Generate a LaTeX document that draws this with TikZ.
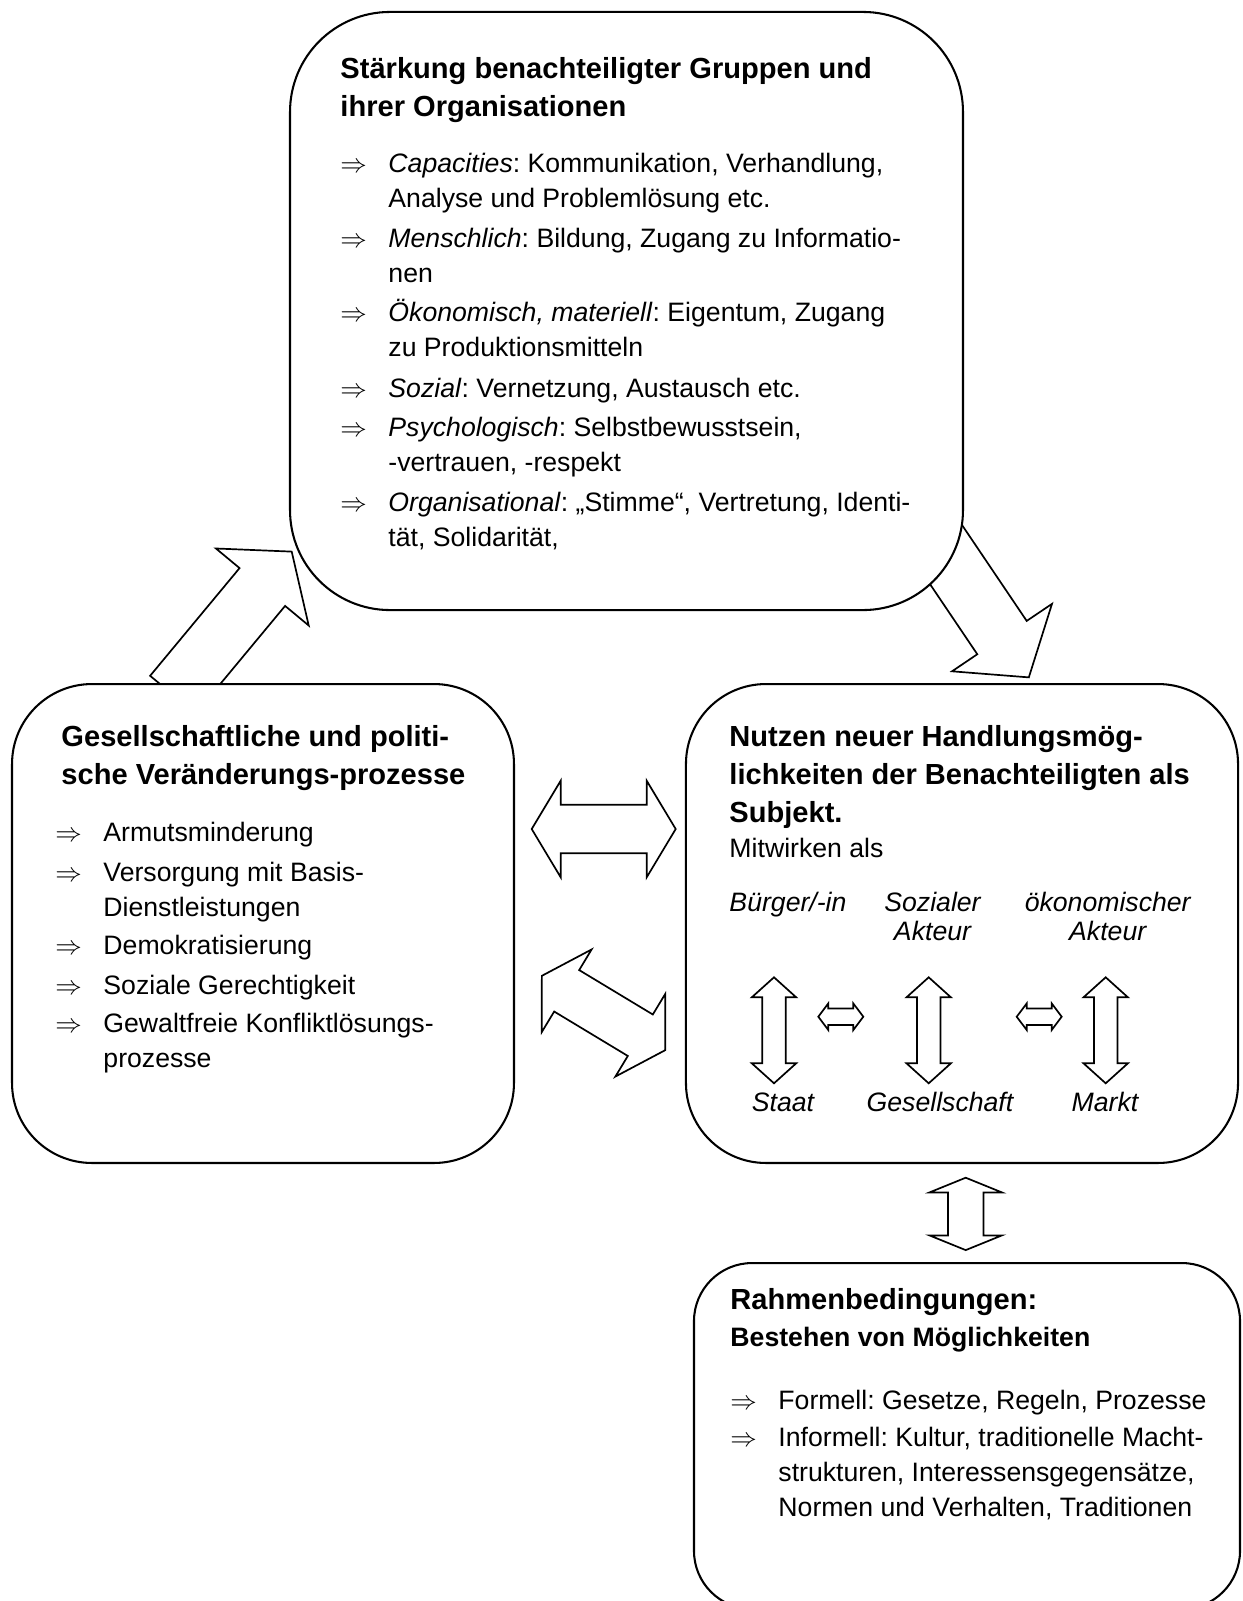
\documentclass[tikz,border=0pt]{standalone}
\usepackage{fontspec}
\setmainfont{Liberation Sans}
\usepackage{amssymb}
\frenchspacing
\newcommand{\punkt}[1]{\makebox[19.8pt][l]{$\Rightarrow$}\parbox[t]{9cm}{\raggedright #1}}
\newcommand{\zeilen}[1]{\parbox[t]{10cm}{\raggedright #1}}

\tikzset{
  kasten/.style={draw, line width=0.85pt, fill=white, rectangle, inner sep=0pt},
  blockpfeil/.style={draw, line width=0.7pt, fill=white},
  titel/.style={anchor=base west, inner sep=0pt, font=\fontsize{12}{15.7}\selectfont\bfseries},
  untertitel/.style={anchor=base west, inner sep=0pt, font=\fontsize{11}{14.4}\selectfont\bfseries},
  zeile/.style={anchor=base west, inner sep=0pt, font=\fontsize{11}{14.4}\selectfont},
  rolle/.style={anchor=base, inner sep=0pt, font=\fontsize{11}{12}\selectfont\itshape},
  pics/einzelpfeil/.style args={#1/#2/#3/#4}{code={
    \draw[blockpfeil] (0,-#3) -- (#1-#2,-#3) -- (#1-#2,-#4) -- (#1,0)
      -- (#1-#2,#4) -- (#1-#2,#3) -- (0,#3) -- cycle;
  }},
  pics/doppelpfeil/.style args={#1/#2/#3/#4}{code={
    \draw[blockpfeil] (-#1,0) -- (-#1+#2,-#4) -- (-#1+#2,-#3) -- (#1-#2,-#3)
      -- (#1-#2,-#4) -- (#1,0) -- (#1-#2,#4) -- (#1-#2,#3) -- (-#1+#2,#3)
      -- (-#1+#2,#4) -- cycle;
  }},
}

\begin{document}
\begin{tikzpicture}[x=0.4128pt, y=-0.4128pt]
  \useasboundingbox (0,0) rectangle (1242,1601);
  \fill[white] (0,0) rectangle (1242,1601);

  \pic[rotate=50.3] at (172.9,694.7) {einzelpfeil=186/46/29.6/60.3};
  \pic[rotate=-56] at (929.3,529.8) {einzelpfeil=178/48/29.8/60.3};

  \node[kasten, rounded corners=41.28pt, minimum width=277.8pt, minimum height=246.9pt]
    (Staerkung) at (626.5,311) {};
  \node[kasten, rounded corners=33pt, minimum width=207.2pt, minimum height=197.7pt]
    (Prozesse) at (263,923.5) {};
  \node[kasten, rounded corners=33pt, minimum width=227.9pt, minimum height=197.7pt]
    (Nutzen) at (962,923.5) {};
  \node[kasten, rounded corners=24pt, minimum width=225.4pt, minimum height=142.8pt]
    (Rahmen) at (967,1436) {};

  \pic at (603.7,829) {doppelpfeil=72/29/24.2/48.3};
  \pic[rotate=-31.1] at (603.5,1013) {doppelpfeil=72/29/24.2/48.3};
  \foreach \x in {774,928.7,1105.7}
    \pic[rotate=90] at (\x,1030.3) {doppelpfeil=53/20/11.7/22.2};
  \foreach \x in {840.8,1039.2}
    \pic at (\x,1016.7) {doppelpfeil=22.5/10/8.3/13.3};
  \pic[rotate=90] at (965.7,1213.9) {doppelpfeil=36.2/14.7/17.8/36.2};

  \node[titel] (Titel-1) at (340,78.4)
    {\zeilen{Stärkung benachteiligter Gruppen und\\ihrer Organisationen}};
  \node[zeile] (Pkt-1-1) at (340,172.5)
    {\punkt{\textit{Capacities}: Kommunikation, Verhandlung,\\Analyse und Problemlösung etc.}};
  \node[zeile] (Pkt-1-2) at (340,247.5)
    {\punkt{\textit{Menschlich}: Bildung, Zugang zu Informatio-\\nen}};
  \node[zeile] (Pkt-1-3) at (340,321.5)
    {\punkt{\textit{Ökonomisch, materiell}: Eigentum, Zugang\\zu Produktionsmitteln}};
  \node[zeile] (Pkt-1-4) at (340,397.5)
    {\punkt{\textit{Sozial}: Vernetzung, Austausch etc.}};
  \node[zeile] (Pkt-1-5) at (340,436.5)
    {\punkt{\textit{Psychologisch}: Selbstbewusstsein,\\-vertrauen, -respekt}};
  \node[zeile] (Pkt-1-6) at (340,511.5)
    {\punkt{\textit{Organisational}: „Stimme“, Vertretung, Identi-\\tät, Solidarität,}};

  \node[titel] (Titel-2) at (61,746)
    {\zeilen{Gesellschaftliche und politi-\\sche Veränderungs-prozesse}};
  \node[zeile] (Pkt-2-1) at (55,841.5) {\punkt{Armutsminderung}};
  \node[zeile] (Pkt-2-2) at (55,881.5) {\punkt{Versorgung mit Basis-\\Dienstleistungen}};
  \node[zeile] (Pkt-2-3) at (55,954.5) {\punkt{Demokratisierung}};
  \node[zeile] (Pkt-2-4) at (55,994.5) {\punkt{Soziale Gerechtigkeit}};
  \node[zeile] (Pkt-2-5) at (55,1032.5) {\punkt{Gewaltfreie Konfliktlösungs-\\prozesse}};

  \node[titel] (Titel-3) at (729,746.4)
    {\zeilen{Nutzen neuer Handlungsmög-\\lichkeiten der Benachteiligten als\\Subjekt.}};
  \node[zeile] (Mitwirken) at (729,857.5) {Mitwirken als};
  \node[rolle, anchor=base west] (Rolle-1) at (729,911.5) {Bürger/-in};
  \node[rolle] (Rolle-2) at (932.5,911.5) {\parbox[t]{3cm}{\centering Sozialer\\Akteur}};
  \node[rolle] (Rolle-3) at (1107.7,911.5) {\parbox[t]{3cm}{\centering ökonomischer\\Akteur}};
  \node[rolle] (Ebene-1) at (783,1111) {Staat};
  \node[rolle] (Ebene-2) at (940,1111) {Gesellschaft};
  \node[rolle] (Ebene-3) at (1105,1111) {Markt};

  \node[titel] (Titel-4) at (730,1309.4) {Rahmenbedingungen:};
  \node[untertitel] (Titel-5) at (730,1346) {Bestehen von Möglichkeiten};
  \node[zeile] (Pkt-4-1) at (730,1409.5) {\punkt{Formell: Gesetze, Regeln, Prozesse}};
  \node[zeile] (Pkt-4-2) at (730,1446.5)
    {\punkt{Informell: Kultur, traditionelle Macht-\\strukturen, Interessensgegensätze,\\Normen und Verhalten, Traditionen}};
\end{tikzpicture}
\end{document}
